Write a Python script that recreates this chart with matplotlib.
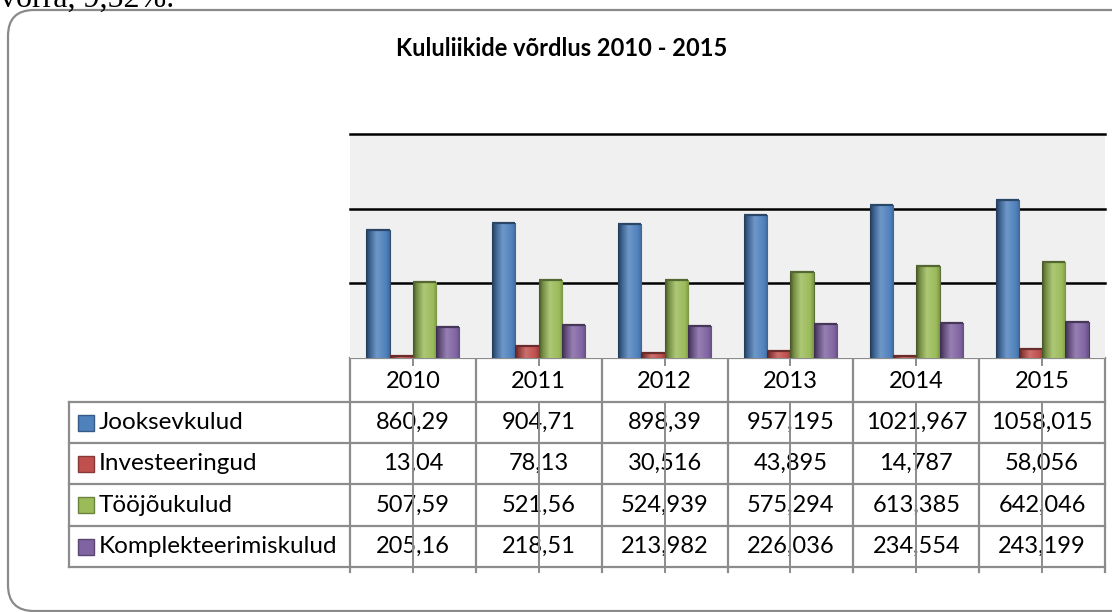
import numpy as np
import matplotlib.pyplot as plt
from matplotlib.colors import LinearSegmentedColormap, to_rgb
from matplotlib.patches import Rectangle, FancyBboxPatch

years = ["2010", "2011", "2012", "2013", "2014", "2015"]
series_names = ["Jooksevkulud", "Investeeringud", "Tööjõukulud", "Komplekteerimiskulud"]
jooksevkulud = [860.29, 904.71, 898.39, 957.195, 1021.967, 1058.015]
investeeringud = [13.04, 78.13, 30.516, 43.895, 14.787, 58.056]
toojoukulud = [507.59, 521.56, 524.939, 575.294, 613.385, 642.046]
komplekteerimiskulud = [205.16, 218.51, 213.982, 226.036, 234.554, 243.199]
series_values = [jooksevkulud, investeeringud, toojoukulud, komplekteerimiskulud]
grid_vals = [500, 1000, 1500]

base_colors = ["#4F81BD", "#C0504D", "#9BBB59", "#8064A2"]
title = "Kululiikide võrdlus 2010 - 2015"

W, H = 1112, 612
AX_L, AX_R, AX_T, AX_B = 350, 1105, 134, 358
TAB_L = 69
row_lines = [402, 443, 484, 526, 567]
TAB_BOTTOM = 572
line_grey = "#8c8c8c"


def shade(c, f):
    r, g, b = to_rgb(c)
    if f < 1:
        return (r * f, g * f, b * f)
    f = f - 1
    return (r + (1 - r) * f, g + (1 - g) * f, b + (1 - b) * f)


def bar_cmap(c):
    stops = [(0.0, shade(c, 0.45)), (0.15, shade(c, 0.75)), (0.45, shade(c, 1.18)),
             (0.85, shade(c, 1.0)), (1.0, shade(c, 0.8))]
    return LinearSegmentedColormap.from_list("bar", stops)


fig = plt.figure(figsize=(W / 100, H / 100), dpi=100)

# overlay in pixel coordinates for frame, title and data table
ov = fig.add_axes([0, 0, 1, 1], zorder=0)
ov.set_xlim(0, W)
ov.set_ylim(H, 0)
ov.axis("off")

ov.text(0, 7, "võrra, 9,52%.", fontsize=23, family="Liberation Serif",
        va="baseline", ha="left", color="black")
frame = FancyBboxPatch((8, 10), 1130, 601, boxstyle="round,pad=0,rounding_size=26",
                       fc="white", ec="#8a8a8a", lw=1.6)
ov.add_patch(frame)
ov.text(562, 48, title, fontsize=17, fontweight="bold",
        family="Lato", ha="center", va="center")

# bar chart
ax = fig.add_axes([AX_L / W, 1 - AX_B / H, (AX_R - AX_L) / W, (AX_B - AX_T) / H], zorder=1)
ax.set_facecolor("#F0F0F0")
n = len(years)
bw = 0.185
grad = np.linspace(0, 1, 64).reshape(1, -1)
for si, (vals, col) in enumerate(zip(series_values, base_colors)):
    cmap = bar_cmap(col)
    for i, v in enumerate(vals):
        x0 = i + (si - 1.5) * bw - bw / 2
        rect = ax.bar(x0, v, width=bw, align="edge", color=col,
                      edgecolor=shade(col, 0.6), lw=0.8, zorder=3)[0]
        im = ax.imshow(grad, cmap=cmap, extent=(x0, x0 + bw, 0, v), aspect="auto", zorder=3.1)
        im.set_clip_path(rect)
        ax.plot([x0, x0 + bw], [v, v], color=shade(col, 0.55), lw=1.6,
                solid_capstyle="butt", zorder=3.2)

for g in grid_vals:
    ax.axhline(g, color="black", lw=1.8, zorder=2, clip_on=False)
ax.set_xlim(-0.5, n - 0.5)
ax.set_ylim(0, 1500)
ax.set_xticks([])
ax.set_yticks([])
for s in ax.spines.values():
    s.set_visible(False)

# data table below the plot
colw = (AX_R - AX_L) / n
ov.plot([AX_L, AX_R], [AX_B, AX_B], color=line_grey, lw=1.6, zorder=5)
for k in range(n + 1):
    x = AX_L + k * colw
    ov.plot([x, x], [AX_B, TAB_BOTTOM], color=line_grey, lw=1.6, zorder=5)
for k in range(n):
    xm = AX_L + (k + 0.5) * colw
    ov.plot([xm, xm], [AX_B, AX_B + 7], color=line_grey, lw=1.4, zorder=5)
    ov.plot([xm, xm], [row_lines[0], TAB_BOTTOM], color=line_grey, lw=1.4, zorder=5)
    ov.text(xm, (AX_B + row_lines[0]) / 2 + 1, years[k], fontsize=17, family="Lato",
            ha="center", va="center", zorder=4)
for y in row_lines:
    ov.plot([TAB_L, AX_R], [y, y], color=line_grey, lw=1.6, zorder=5)
ov.plot([TAB_L, TAB_L], [row_lines[0], row_lines[-1]], color=line_grey, lw=1.6, zorder=5)

for r, (name, vals, col) in enumerate(zip(series_names, series_values, base_colors)):
    yc = (row_lines[r] + row_lines[r + 1]) / 2
    ov.add_patch(Rectangle((78, yc - 8), 16, 16, fc=col, ec=shade(col, 0.7), lw=1, zorder=5))
    ov.text(99, yc, name, fontsize=17.5, family="Lato", ha="left", va="center", zorder=4)
    for k, v in enumerate(vals):
        xm = AX_L + (k + 0.5) * colw
        ov.text(xm, yc, str(v).replace(".", ","), fontsize=17, family="Lato",
                ha="center", va="center", zorder=4)

fig.savefig("out.png", dpi=100)
